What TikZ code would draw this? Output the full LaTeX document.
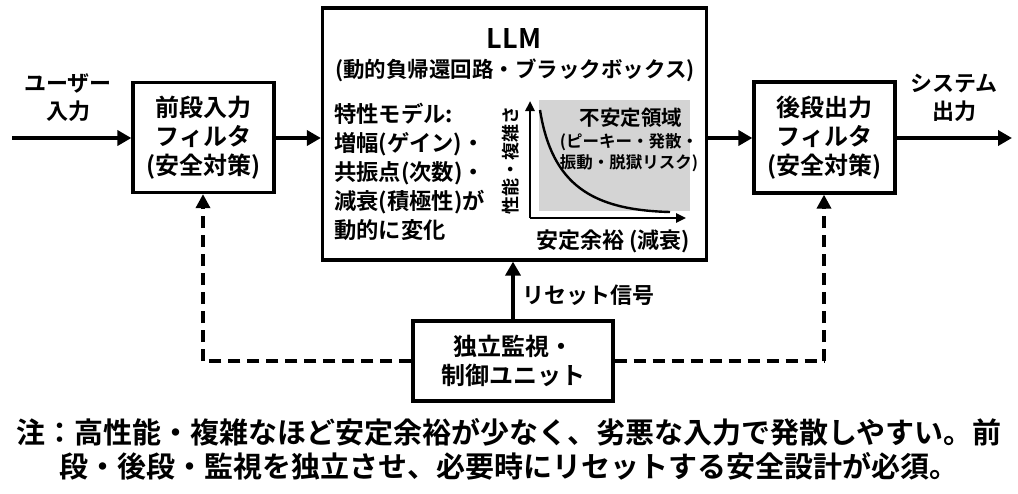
\documentclass[tikz,border=0pt]{standalone}
\usepackage{fontspec}
\setmainfont{Noto Sans CJK JP}[BoldFont={Noto Sans CJK JP Bold}]
\usetikzlibrary{arrows.meta}
\begin{document}
\begin{tikzpicture}[x=1pt,y=-1pt,
  box/.style={draw,line width=3.2pt,inner sep=0pt},
  flow/.style={line width=3.5pt,-{Triangle[length=14pt,width=15pt]}},
  dashflow/.style={line width=3.4pt,dash pattern=on 12pt off 7pt,-{Triangle[length=14pt,width=14pt]}},
  dashline/.style={line width=3.4pt,dash pattern=on 12pt off 7pt},
  lbl/.style={font=\fontsize{24}{29}\selectfont\bfseries,align=center},
  side/.style={font=\fontsize{22}{28}\selectfont\bfseries,align=center},
  inner/.style={font=\fontsize{22.3}{29}\selectfont\bfseries,align=left,inner sep=0pt}
]
\useasboundingbox (0,0) rectangle (1018,493);
\fill[white] (0,0) rectangle (1018,493);
% boxes
\node[box,minimum width=141pt,minimum height=110pt,lbl] (pre) at (203.5,137.5) {前段入力\\フィルタ\\(安全対策)};
\node[box,minimum width=384pt,minimum height=252pt] (llm) at (514.5,134) {};
\node[box,minimum width=141pt,minimum height=111pt,lbl] (post) at (824.5,137.5) {後段出力\\フィルタ\\(安全対策)};
\node[box,minimum width=200pt,minimum height=80pt,lbl] (mon) at (513,361) {独立監視・\\制御ユニット};
% io coordinates
\coordinate (in) at (12,138);
\coordinate (out) at (1012,138);
\node[side] (inlbl) at (68,98) {ユーザー\\入力};
\node[side] (outlbl) at (954,98) {システム\\出力};
% main flow
\draw[flow] (in) -- (pre.west |- in);
\draw[flow] (pre.east |- in) -- (llm.west |- in);
\draw[flow] (llm.east |- in) -- (post.west |- in);
\draw[flow] (post.east |- in) -- (out);
% reset
\draw[flow] (mon.north) -- (llm.south -| mon.north);
\node[side,anchor=west] (reset) at (519,295) {リセット信号};
% dashed feedback
\coordinate (lc) at (203,361);
\coordinate (rc) at (824,361);
\draw[dashline] (mon.west) -- (lc);
\draw[dashflow] (lc) -- (pre.south -| lc);
\draw[dashline] (mon.east) -- (rc);
\draw[dashflow] (rc) -- (post.south -| rc);
% LLM contents
\node[font=\fontsize{27}{30}\selectfont\bfseries] (title) at (514,38) {LLM};
\node[font=\fontsize{21.5}{26}\selectfont\bfseries] (sub) at (515,70) {(動的負帰還回路・ブラックボックス)};
\node[inner,anchor=north west] (model) at (334,103) {特性モデル:\\増幅(ゲイン)・\\共振点(次数)・\\減衰(積極性)が\\動的に変化};
% chart
\fill[black!17] (539,100) rectangle (690,211);
\coordinate (origin) at (530,218);
\coordinate (ytip) at (530,101);
\coordinate (xtip) at (686,218);
\draw[line width=2.4pt,-{Triangle[length=10pt,width=9pt]}] (origin) -- (ytip);
\draw[line width=2.4pt,-{Triangle[length=10pt,width=9pt]}] (origin) -- (xtip);
\draw[line width=2.4pt] (540,110) .. controls (552,185) and (592,210) .. (670,212);
\node[font=\fontsize{18}{20}\selectfont\bfseries,rotate=90] (ylbl) at (511,160) {性能・複雑さ};
\node[font=\fontsize{20.5}{24}\selectfont\bfseries] (unstable) at (631,118) {不安定領域};
\node[font=\fontsize{16.5}{21}\selectfont\bfseries,align=center] (risk) at (629,153) {(ピーキー・発散・\\振動・脱獄リスク)};
\node[font=\fontsize{22}{24}\selectfont\bfseries] (xlbl) at (613,241) {安定余裕 (減衰)};
% note
\node[font=\fontsize{29}{34}\selectfont\bfseries,align=center] (note) at (509,449) {注：高性能・複雑なほど安定余裕が少なく、劣悪な入力で発散しやすい。前\\段・後段・監視を独立させ、必要時にリセットする安全設計が必須。};
\end{tikzpicture}
\end{document}
